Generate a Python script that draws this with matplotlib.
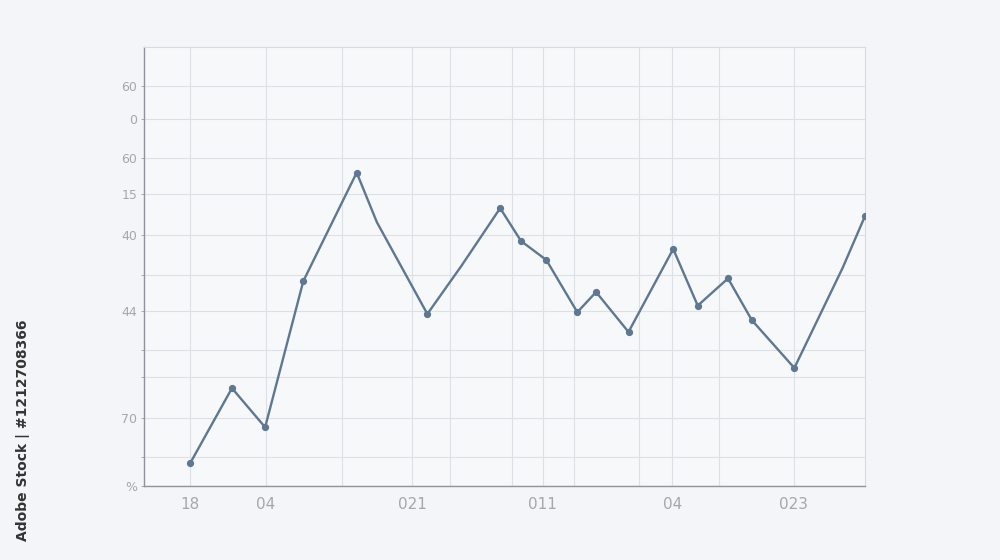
import matplotlib
matplotlib.use("Agg")
import matplotlib.pyplot as plt

# positions on a 0-100 scale in both directions
x_vals = [6.4, 12.2, 16.8, 22.1, 29.5, 32.3, 39.3, 44.0, 49.4, 52.3, 55.8,
          60.1, 62.7, 67.2, 73.4, 76.8, 81.0, 84.3, 90.2, 96.9, 100.0]
y_vals = [5.2, 22.3, 13.4, 46.7, 71.4, 60.1, 39.2, 50.1, 63.3, 55.8, 51.5,
          39.6, 44.2, 35.1, 54.0, 41.1, 47.3, 37.8, 26.9, 49.7, 61.5]
# points drawn with a dot (the rest are plain bends)
has_marker = [True, True, True, True, True, False, True, False, True, True, True,
              True, True, True, True, True, True, True, True, False, True]

x_ticks = [6.4, 16.9, 37.2, 55.3, 73.3, 90.1]
x_labels = ["18", "04", "021", "011", "04", "023"]
x_minor = [27.4, 42.5, 51.0, 59.7, 68.7, 79.8]

y_ticks = [0, 6.6, 15.5, 24.8, 31.0, 39.9, 48.1, 57.2, 66.5, 74.7, 83.6, 91.1]
y_labels = ["%", "", "70", "", "", "44", "", "40", "15", "60", "0", "60"]

BG = "#f3f5f8"
LINE = "#5d7890"
GRID = "#dde1e6"

fig = plt.figure(figsize=(10, 5.6), dpi=100, facecolor=BG)
ax = fig.add_axes([0.144, 0.132, 0.721, 0.784], facecolor="#f6f8fa")

ax.plot(x_vals, y_vals, color=LINE, lw=1.7, solid_joinstyle="miter", zorder=3)
mx = [x for x, m in zip(x_vals, has_marker) if m]
my = [y for y, m in zip(y_vals, has_marker) if m]
ax.plot(mx, my, "o", color=LINE, ms=4.2, zorder=4)

ax.set_xlim(0, 100)
ax.set_ylim(0, 100)

ax.set_xticks(x_ticks)
ax.set_xticklabels(x_labels)
ax.set_xticks(x_minor, minor=True)
ax.set_yticks(y_ticks)
ax.set_yticklabels(y_labels)

ax.grid(True, which="both", color=GRID, lw=0.8, zorder=0)
ax.tick_params(axis="x", which="both", length=0, pad=8,
               labelsize=11, labelcolor="#a3a8ae")
ax.tick_params(axis="y", length=2, width=0.6, color="#9aa0a6", pad=3,
               labelsize=9, labelcolor="#a3a8ae")

for side in ("left", "bottom"):
    ax.spines[side].set_color("#8e949a")
    ax.spines[side].set_linewidth(1.0)
for side in ("top", "right"):
    ax.spines[side].set_color("#d6dae0")
    ax.spines[side].set_linewidth(0.8)

fig.text(0.023, 0.232, "Adobe Stock | #1212708366", rotation=90,
         ha="center", va="center", fontsize=10, fontweight="bold",
         color="#333333")

fig.savefig("out.png", dpi=100, facecolor=BG)
